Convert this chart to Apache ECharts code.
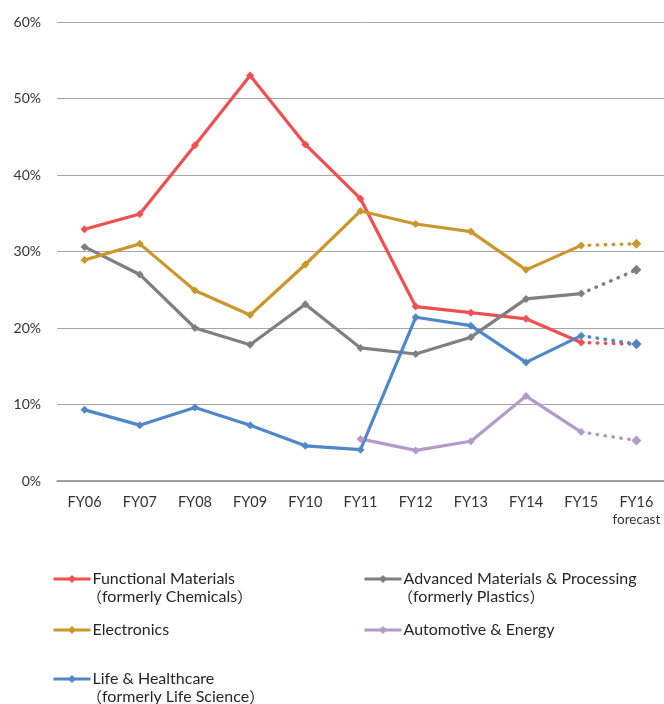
<!DOCTYPE html>
<html>
<head>
<meta charset="utf-8">
<script src="https://cdn.jsdelivr.net/npm/echarts@6/dist/echarts.min.js"></script>
<style>
  html, body { margin: 0; padding: 0; background: #fff; }
  #chart { width: 664px; height: 704px; }
</style>
</head>
<body>
<div id="chart"></div>
<script>
const years = ['FY06', 'FY07', 'FY08', 'FY09', 'FY10', 'FY11', 'FY12', 'FY13', 'FY14', 'FY15', 'FY16'];
const yTicks = [0, 10, 20, 30, 40, 50, 60];

// actuals FY06..FY15, FY16 is the forecast point
const functional = [32.9, 34.9, 43.9, 53.0, 44.0, 36.9, 22.8, 22.0, 21.2, 18.1, 17.9];
const advanced = [30.6, 27.0, 20.0, 17.8, 23.1, 17.4, 16.6, 18.8, 23.8, 24.5, 27.6];
const electronics = [28.9, 31.0, 24.9, 21.7, 28.3, 35.3, 33.6, 32.6, 27.6, 30.8, 31.0];
const automotive = [null, null, null, null, null, 5.5, 4.0, 5.2, 11.1, 6.4, 5.3];
const lifeCare = [9.3, 7.3, 9.6, 7.3, 4.6, 4.1, 21.4, 20.3, 15.5, 19.0, 17.9];

const seriesInfo = [
  { name: 'Functional Materials', sub: 'formerly Chemicals', data: functional, color: '#f04f4f' },
  { name: 'Advanced Materials & Processing', sub: 'formerly Plastics', data: advanced, color: '#7f7f7f' },
  { name: 'Electronics', sub: '', data: electronics, color: '#c9972c' },
  { name: 'Automotive & Energy', sub: '', data: automotive, color: '#b29acb' },
  { name: 'Life & Healthcare', sub: 'formerly Life Science', data: lifeCare, color: '#4f87c8' }
];

const FONT = 'Lato, sans-serif';
const last = years.length - 1;
const series = [];
seriesInfo.forEach(function (s) {
  // solid part: everything but the forecast year
  series.push({
    name: s.name,
    type: 'line',
    data: s.data.map(function (v, i) { return i < last ? v : null; }),
    color: s.color,
    symbol: 'diamond',
    symbolSize: 8,
    lineStyle: { width: 3.2, color: s.color },
    itemStyle: { color: s.color }
  });
  // dotted part: FY15 -> FY16 forecast, marker only on FY16
  series.push({
    name: s.name + ' forecast',
    type: 'line',
    data: s.data.map(function (v, i) { return i >= last - 1 ? v : null; }),
    color: s.color,
    symbol: 'diamond',
    symbolSize: function (v, p) { return p.dataIndex === last ? 10 : 0; },
    lineStyle: { width: 3.5, color: s.color, type: [0.5, 7.5], cap: 'round' },
    itemStyle: { color: s.color }
  });
});

const legendPos = [
  { left: 52, top: 571 },
  { left: 363, top: 571 },
  { left: 52, top: 622 },
  { left: 363, top: 622 },
  { left: 52, top: 671 }
];
const legends = seriesInfo.map(function (s, i) {
  return {
    data: [s.name],
    left: legendPos[i].left,
    top: legendPos[i].top,
    padding: 0,
    itemWidth: 37,
    itemHeight: 10,
    itemGap: 0,
    lineStyle: { width: 3 },
    textStyle: { fontFamily: FONT, fontSize: 16, color: '#262626', padding: [0, 0, 0, -3] },
    selectedMode: false
  };
});

const subTexts = [];
seriesInfo.forEach(function (s, i) {
  if (s.sub) {
    subTexts.push({
      type: 'text',
      left: legendPos[i].left + 35,
      top: legendPos[i].top + 18,
      style: {
        text: '{p|（}' + s.sub + '{p|）}',
        font: '16px ' + FONT,
        fill: '#262626',
        rich: { p: { fontFamily: '"Noto Sans CJK JP"', fontSize: 15, fill: '#262626' } }
      }
    });
  }
});

const chart = echarts.init(document.getElementById('chart'), null, { renderer: 'canvas' });
chart.setOption({
  animation: false,
  backgroundColor: '#fff',
  grid: { left: 57, right: -5, top: 22, bottom: 223, containLabel: false },
  legend: legends,
  graphic: subTexts,
  xAxis: {
    type: 'category',
    data: years,
    boundaryGap: true,
    axisTick: { show: false },
    axisLine: { lineStyle: { color: '#8a8a8a', width: 1.5 } },
    axisLabel: {
      interval: 0,
      margin: 14,
      fontFamily: FONT,
      fontSize: 14.5,
      color: '#333',
      formatter: function (v) { return v === 'FY16' ? v + '\n{f|forecast}' : v; },
      rich: { f: { fontFamily: FONT, fontSize: 13.5, color: '#333', padding: [3, 0, 0, 0] } }
    }
  },
  yAxis: {
    type: 'value',
    min: yTicks[0],
    max: yTicks[yTicks.length - 1],
    interval: 10,
    axisLine: { show: false },
    axisTick: { show: false },
    splitLine: { lineStyle: { color: '#a6a6a6', width: 1 } },
    axisLabel: { margin: 16, fontFamily: FONT, fontSize: 14, color: '#333', formatter: '{value}%' }
  },
  series: series
});
</script>
</body>
</html>
